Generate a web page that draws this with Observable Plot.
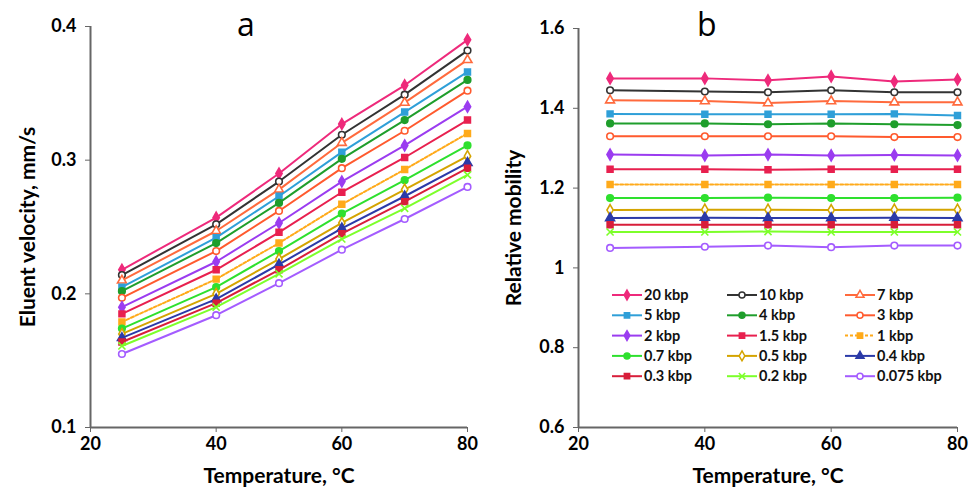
<!DOCTYPE html>
<html><head><meta charset="utf-8">
<script src="https://cdn.jsdelivr.net/npm/d3@7"></script>
<script src="https://cdn.jsdelivr.net/npm/@observablehq/plot@0.6"></script>
<style>
body{margin:0;background:#fff;}
#wrap{position:relative;width:971px;height:494px;font-family:Lato,"Open Sans",sans-serif;overflow:hidden;}
.panel{position:absolute;top:0;}
.letter{position:absolute;font-family:"Open Sans",Lato,sans-serif;font-size:32px;color:#000;line-height:1;}
g[aria-label="x-axis label"] text, g[aria-label="y-axis label"] text{font-size:21px;font-weight:bold;}
#legend{position:absolute;left:0;top:0;pointer-events:none;}
</style></head>
<body><div id="wrap"></div>
<script>
const temperatures = [25, 40, 50, 60, 70, 80];
const seriesLabels = ["20 kbp","10 kbp","7 kbp","5 kbp","4 kbp","3 kbp","2 kbp","1.5 kbp","1 kbp","0.7 kbp","0.5 kbp","0.4 kbp","0.3 kbp","0.2 kbp","0.075 kbp"];
const eluentVelocity = [
  [0.218, 0.257, 0.290, 0.327, 0.356, 0.390],
  [0.214, 0.252, 0.284, 0.319, 0.349, 0.382],
  [0.210, 0.247, 0.278, 0.313, 0.343, 0.375],
  [0.205, 0.242, 0.273, 0.306, 0.336, 0.366],
  [0.202, 0.238, 0.268, 0.301, 0.330, 0.360],
  [0.197, 0.232, 0.262, 0.294, 0.322, 0.352],
  [0.190, 0.224, 0.253, 0.284, 0.311, 0.340],
  [0.185, 0.218, 0.246, 0.276, 0.302, 0.330],
  [0.179, 0.211, 0.238, 0.267, 0.293, 0.320],
  [0.174, 0.205, 0.232, 0.260, 0.285, 0.311],
  [0.170, 0.200, 0.226, 0.253, 0.278, 0.303],
  [0.167, 0.196, 0.222, 0.249, 0.273, 0.298],
  [0.164, 0.193, 0.218, 0.245, 0.269, 0.294],
  [0.161, 0.190, 0.215, 0.241, 0.264, 0.289],
  [0.155, 0.184, 0.208, 0.233, 0.256, 0.280]
];
const relativeMobility = [
  [1.475, 1.475, 1.470, 1.480, 1.467, 1.472],
  [1.445, 1.442, 1.440, 1.445, 1.440, 1.440],
  [1.420, 1.418, 1.413, 1.418, 1.415, 1.415],
  [1.386, 1.385, 1.385, 1.385, 1.386, 1.382],
  [1.362, 1.362, 1.360, 1.362, 1.360, 1.358],
  [1.330, 1.330, 1.330, 1.330, 1.328, 1.328],
  [1.284, 1.282, 1.284, 1.282, 1.283, 1.282],
  [1.247, 1.247, 1.246, 1.247, 1.247, 1.247],
  [1.209, 1.209, 1.209, 1.209, 1.209, 1.209],
  [1.175, 1.175, 1.176, 1.175, 1.175, 1.176],
  [1.145, 1.146, 1.146, 1.145, 1.146, 1.146],
  [1.125, 1.126, 1.125, 1.125, 1.126, 1.125],
  [1.108, 1.108, 1.108, 1.108, 1.108, 1.108],
  [1.090, 1.090, 1.091, 1.090, 1.090, 1.090],
  [1.050, 1.053, 1.056, 1.052, 1.056, 1.056]
];
const temperatureTicks = [20, 40, 60, 80];
const velocityTicks = [0.1, 0.2, 0.3, 0.4];
const mobilityTicks = [0.6, 0.8, 1, 1.2, 1.4, 1.6];

// styles
const seriesColors = ["#ee2a7b","#333333","#ff6a3d","#2f9fd8","#1f9e2c","#ff5a2e","#9b3cf0","#e8204f","#ffaa1a","#2ee02e","#d4a400","#2b3aa8","#d81e3a","#7dff2a","#a45cff"];
const seriesSymbols = ["diamond","circle","triangle","square","circle","circle","diamond","square","square","circle","diamond","triangle","square","times","circle"];
const seriesFilled = [true,false,false,true,true,false,true,true,true,true,false,true,true,true,false];
const seriesDash = [null,null,null,null,null,null,null,null,"3,2",null,null,null,null,null,null];

function rows(values) {
  return values.map((arr, s) => arr.map((v, i) => ({t: temperatures[i], v, s}))).flat();
}

function makePanel(values, o) {
  const data = rows(values);
  const marks = [
    Plot.ruleX([o.xd[0]], {y1: o.yd[0], y2: o.yd[1], stroke: "#666", strokeWidth: 2}),
    Plot.ruleY([o.yd[0]], {x1: o.xd[0], x2: o.xd[1], stroke: "#666", strokeWidth: 2}),
    Plot.axisX({ticks: temperatureTicks, tickSize: 5, tickPadding: 5, label: "Temperature, °C", labelAnchor: "center", labelArrow: "none", labelOffset: 55, fontSize: 18, fontWeight: "bold", stroke: "#666"}),
    Plot.axisY({ticks: o.ticks, tickFormat: d => String(d), tickSize: 5, tickPadding: 9, label: o.ylabel, labelAnchor: "center", labelArrow: "none", labelOffset: o.labelOffset, fontSize: 18, fontWeight: "bold", stroke: "#666"})
  ];
  seriesLabels.forEach((lab, s) => {
    const d = data.filter(r => r.s === s);
    marks.push(Plot.line(d, {x: "t", y: "v", stroke: seriesColors[s], strokeWidth: 2, strokeDasharray: seriesDash[s] || undefined}));
    marks.push(Plot.dot(d, {x: "t", y: "v", symbol: seriesSymbols[s], r: 3.3, stroke: seriesColors[s], strokeWidth: 1.6, fill: seriesFilled[s] ? seriesColors[s] : "white"}));
  });
  return Plot.plot({
    width: o.width, height: 494,
    marginLeft: o.ml, marginRight: o.mr, marginTop: o.mt, marginBottom: 67,
    style: {fontFamily: "Lato, 'Open Sans', sans-serif", color: "#000", background: "transparent"},
    x: {domain: o.xd},
    y: {domain: o.yd},
    marks
  });
}

const wrap = document.getElementById("wrap");
const left = makePanel(eluentVelocity, {width: 485, ml: 90, mr: 18, mt: 26, xd: [20, 80], yd: [0.1, 0.4], ticks: velocityTicks, ylabel: "Eluent velocity, mm/s", labelOffset: 70});
left.classList.add("panel"); left.style.left = "0px";
wrap.appendChild(left);
const right = makePanel(relativeMobility, {width: 486, ml: 93, mr: 14, mt: 28, xd: [20, 80], yd: [0.6, 1.6], ticks: mobilityTicks, ylabel: "Relative mobility", labelOffset: 72});
right.classList.add("panel"); right.style.left = "485px";
wrap.appendChild(right);

// panel letters
[["a", 237, 8], ["b", 697, 8]].forEach(([t, x, y]) => {
  const el = document.createElement("div");
  el.className = "letter"; el.textContent = t;
  el.style.left = x + "px"; el.style.top = y + "px";
  wrap.appendChild(el);
});

// legend overlay inside panel b
const lg = d3.select(wrap).append("svg").attr("id", "legend").attr("width", 971).attr("height", 494);
const colX = [612, 727, 845], rowY0 = 295, rowStep = 20.3;
const symMap = {diamond: d3.symbolDiamond, circle: d3.symbolCircle, triangle: d3.symbolTriangle, square: d3.symbolSquare, times: d3.symbolTimes};
seriesLabels.forEach((lab, s) => {
  const x = colX[s % 3], y = rowY0 + Math.floor(s / 3) * rowStep;
  const g = lg.append("g").attr("transform", `translate(${x},${y})`);
  g.append("line").attr("x1", 0).attr("x2", 30).attr("y1", 0).attr("y2", 0)
    .attr("stroke", seriesColors[s]).attr("stroke-width", 2).attr("stroke-dasharray", seriesDash[s]);
  g.append("path").attr("transform", "translate(15,0)").attr("d", d3.symbol(symMap[seriesSymbols[s]], 28)())
    .attr("stroke", seriesColors[s]).attr("stroke-width", 1.5).attr("fill", seriesFilled[s] ? seriesColors[s] : "white");
  g.append("text").attr("x", 32).attr("y", 0).attr("dy", "0.35em").text(lab)
    .attr("font-family", "Lato, 'Open Sans', sans-serif").attr("font-weight", "bold").attr("font-size", 14.5).attr("fill", "#111");
});
</script></body></html>
